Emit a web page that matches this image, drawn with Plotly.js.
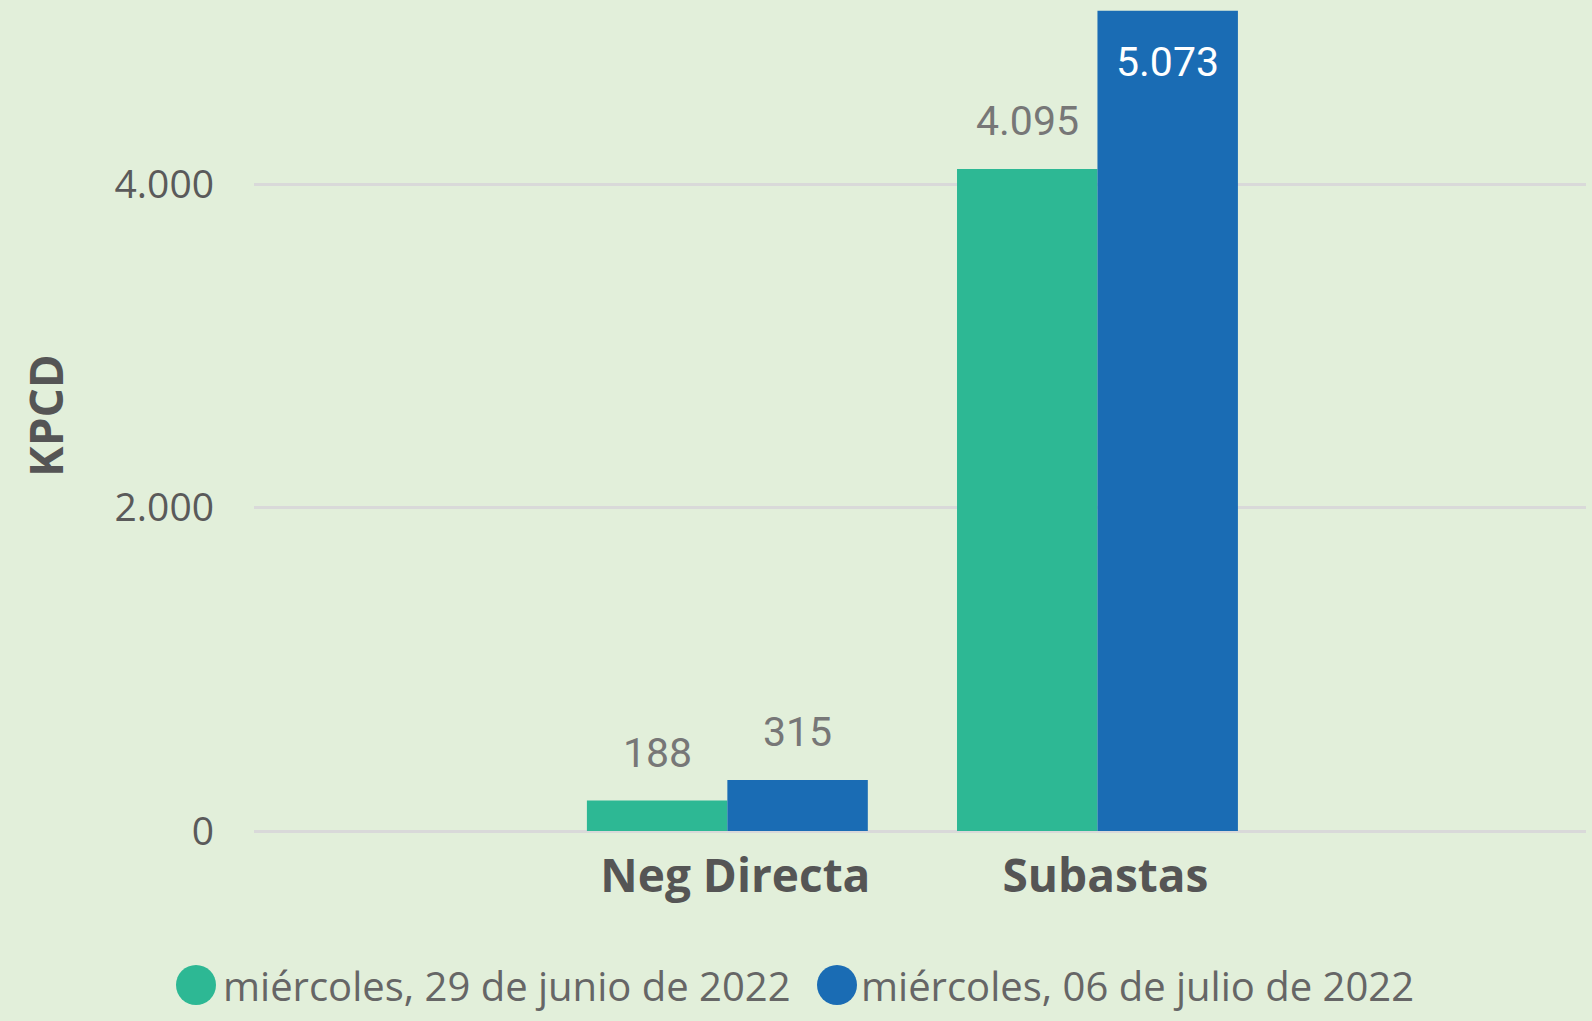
<!DOCTYPE html>
<html><head><meta charset="utf-8">
<script src="https://cdn.plot.ly/plotly-3.0.1.min.js"></script>
<style>html,body{margin:0;padding:0;background:#e2efda;}#chart{width:1592px;height:1021px;}</style>
</head><body><div id="chart"></div>
<script>
// ---- data ----
const categories = ['Neg Directa', 'Subastas'];
const seriesNames = ['miércoles, 29 de junio de 2022', 'miércoles, 06 de julio de 2022'];
const values29Jun = [188, 4095];
const values06Jul = [315, 5073];
const yTickVals = [0, 2000, 4000];
const yTitle = 'KPCD';

// ---- styles ----
const seriesColors = ['#2db894', '#1a6cb4'];
const labelInside = [[false, false], [false, true]];
const BG = '#e2efda';
const BARGAP = 0.241;
const M = {l: 254, r: 6, t: 0, b: 190};
const W = 1592, H = 1021;
const PW = W - M.l - M.r, PH = H - M.t - M.b;
const px2x = p => (p - M.l) / PW;
const px2y = p => (H - M.b - p) / PH;
const fmt = v => String(v).replace(/\B(?=(\d{3})+(?!\d))/g, '.');

const seriesValues = [values29Jun, values06Jul];

const traces = seriesValues.map((vals, i) => ({
  type: 'bar',
  name: seriesNames[i],
  x: categories,
  y: vals,
  marker: {color: seriesColors[i], line: {width: 0}},
  hoverinfo: 'skip',
  showlegend: false
}));

// data labels placed via the axes' own scales
const annotations = [];
seriesValues.forEach((vals, i) => {
  vals.forEach((v, j) => {
    const inside = labelInside[i][j];
    annotations.push({
      xref: 'x', yref: 'y',
      x: j + (i - 0.5) * (1 - BARGAP) / 2,
      y: v,
      text: fmt(v),
      showarrow: false,
      xanchor: 'center',
      yanchor: inside ? 'top' : 'bottom',
      yshift: inside ? -25 : 22,
      font: {family: 'Roboto', size: 41, color: inside ? '#ffffff' : '#777777'}
    });
  });
});

// custom legend (large round markers)
const legendItems = [
  {cx: 196, text0: 221},
  {cx: 837, text0: 859}
];
const legendY = 985, legendR = 20;
const shapes = [];
legendItems.forEach((it, i) => {
  shapes.push({
    type: 'circle', xref: 'paper', yref: 'paper',
    x0: px2x(it.cx - legendR), x1: px2x(it.cx + legendR),
    y0: px2y(legendY + legendR), y1: px2y(legendY - legendR),
    fillcolor: seriesColors[i], line: {width: 0}
  });
  annotations.push({
    xref: 'paper', yref: 'paper',
    x: px2x(it.text0), y: px2y(legendY),
    xanchor: 'left', yanchor: 'middle',
    text: seriesNames[i], showarrow: false,
    font: {family: 'Open Sans', size: 40, color: '#666666'}
  });
});

const layout = {
  width: W, height: H,
  margin: M,
  paper_bgcolor: BG, plot_bgcolor: BG,
  separators: ',.',
  font: {family: 'Open Sans', color: '#5a5a5a'},
  barmode: 'group',
  bargap: BARGAP,
  bargroupgap: 0,
  showlegend: false,
  xaxis: {
    type: 'category',
    range: [-1.279, 2.320],
    showgrid: false, zeroline: false, showline: false,
    ticks: '',
    tickfont: {family: 'Open Sans', size: 46, weight: 700, color: '#555555'},
    ticklabelstandoff: 14,
    ticklabelshift: 8,
    fixedrange: true
  },
  yaxis: {
    range: [0, 5140],
    tickmode: 'array',
    tickvals: yTickVals,
    tickformat: ',d',
    showgrid: true, gridcolor: '#d9d9d9', gridwidth: 3,
    zeroline: true, zerolinecolor: '#d9d9d9', zerolinewidth: 3,
    showline: false, ticks: '',
    tickfont: {family: 'Open Sans', size: 39, color: '#5a5a5a'},
    ticklabelstandoff: 39,
    title: {text: yTitle, font: {family: 'Open Sans', size: 46, weight: 700, color: '#555555'}, standoff: 36},
    fixedrange: true
  },
  annotations: annotations,
  shapes: shapes
};

Plotly.newPlot('chart', traces, layout, {displayModeBar: false, staticPlot: true});
</script></body></html>
